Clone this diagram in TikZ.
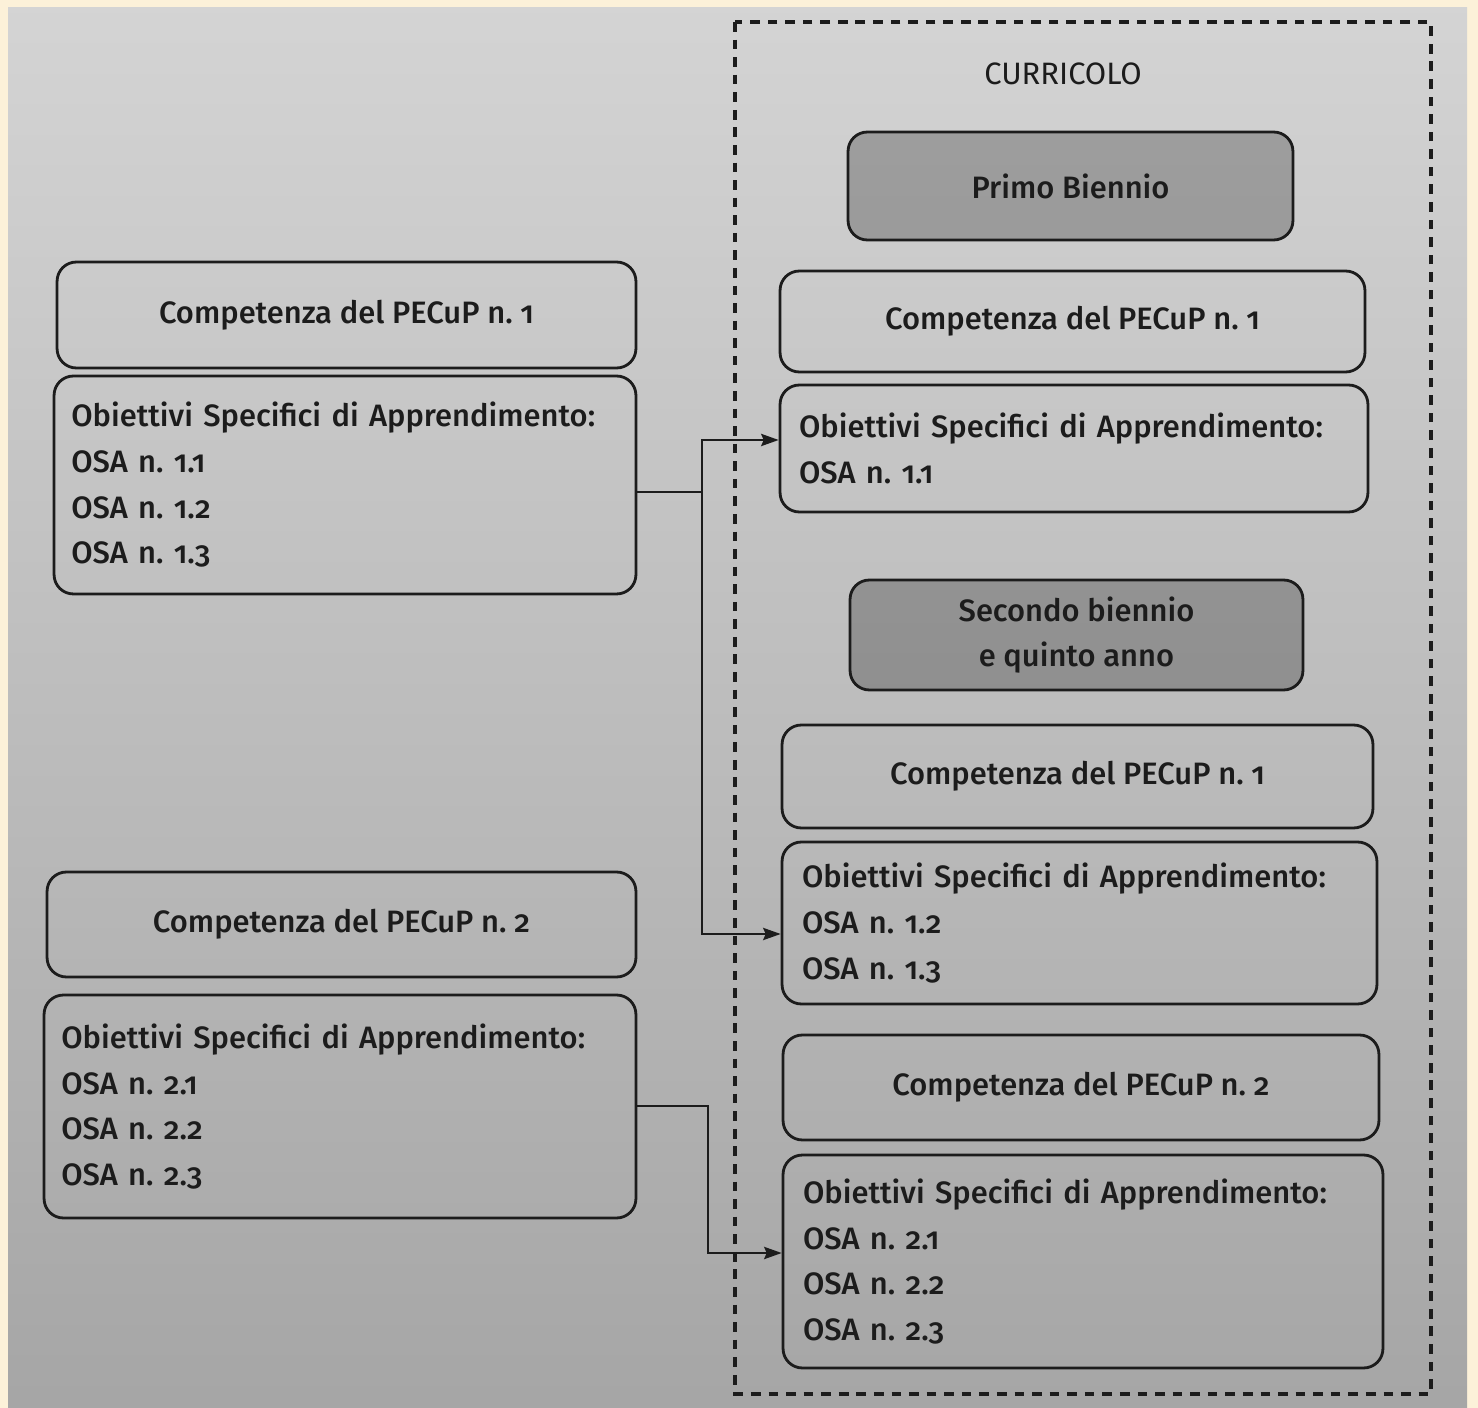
\documentclass[tikz,border=0pt]{standalone}
\usepackage{fontspec}
\setmainfont[Numbers=OldStyle, UprightFont={* Medium}]{Fira Sans}
\newfontfamily\headfont[Numbers=OldStyle]{Fira Sans}
\usetikzlibrary{arrows.meta}
\frenchspacing
\definecolor{cream}{HTML}{FCF1D9}
\definecolor{ink}{HTML}{1C1C1C}
\tikzset{
  x=0.02cm, y=-0.02cm,
  box/.style={draw=ink, line width=1.6pt, rounded corners=11pt, inner sep=0pt,
    font=\fontsize{17.6}{26}\selectfont, text=ink},
  stage/.style={box, fill=black, fill opacity=0.24, text opacity=1},
  list/.style={box, align=left},
  conn/.style={draw=ink, line width=1.1pt,
    >={Stealth[length=10pt,width=7pt,inset=1.5pt]}},
  frame/.style={draw=ink, line width=2pt, dash pattern=on 5.5pt off 4.5pt}
}
\begin{document}
\begin{tikzpicture}
  % page and paper
  \fill[cream] (0,0) rectangle (1478,1408);
  \shade[top color=black!17, bottom color=black!35] (8,8) rectangle (1467,1408);
  \useasboundingbox (0,0) rectangle (1478,1408);

  % curriculum frame
  \draw[frame] (735,22) rectangle (1431,1394);
  \node[font=\headfont\fontsize{17.6}{20}\selectfont, text=ink] (title) at (1063,74) {CURRICOLO};

  % left column
  \node[box, minimum width=11.58cm, minimum height=2.12cm] (lc1) at (346.5,315)
    {Competenza del PECuP n. 1};
  \node[list, minimum width=11.64cm, minimum height=4.36cm, text width=10.95cm] (lo1) at (345,485)
    {Obiettivi Specifici di Apprendimento:\\OSA n. 1.1\\OSA n. 1.2\\OSA n. 1.3};
  \node[box, minimum width=11.78cm, minimum height=2.1cm] (lc2) at (341.5,924.5)
    {Competenza del PECuP n. 2};
  \node[list, minimum width=11.84cm, minimum height=4.46cm, text width=11.15cm] (lo2) at (340,1106.5)
    {Obiettivi Specifici di Apprendimento:\\OSA n. 2.1\\OSA n. 2.2\\OSA n. 2.3};

  % right column
  \node[stage, minimum width=8.9cm, minimum height=2.16cm] (pb) at (1070.5,186)
    {Primo Biennio};
  \node[box, minimum width=11.7cm, minimum height=2.02cm] (rc1) at (1072.5,321.5)
    {Competenza del PECuP n. 1};
  \node[list, minimum width=11.76cm, minimum height=2.54cm, text width=11.0cm] (ro1) at (1074,448.5)
    {Obiettivi Specifici di Apprendimento:\\OSA n. 1.1};
  \node[stage, align=center, minimum width=9.06cm, minimum height=2.2cm] (sb) at (1076.5,635)
    {Secondo biennio\\e quinto anno};
  \node[box, minimum width=11.82cm, minimum height=2.06cm] (rc2) at (1077.5,776.5)
    {Competenza del PECuP n. 1};
  \node[list, minimum width=11.9cm, minimum height=3.24cm, text width=11.1cm] (ro2) at (1079.5,923)
    {Obiettivi Specifici di Apprendimento:\\OSA n. 1.2\\OSA n. 1.3};
  \node[box, minimum width=11.92cm, minimum height=2.1cm] (rc3) at (1081,1087.5)
    {Competenza del PECuP n. 2};
  \node[list, minimum width=12.0cm, minimum height=4.26cm, text width=11.2cm] (ro3) at (1083,1261.5)
    {Obiettivi Specifici di Apprendimento:\\OSA n. 2.1\\OSA n. 2.2\\OSA n. 2.3};

  % connectors
  \coordinate (s1) at (0,492);
  \coordinate (t1) at (702,440);
  \coordinate (t2) at (702,934);
  \draw[conn] (lo1.east |- s1) -- (t1 |- s1);
  \draw[conn,<->] (ro1.west |- t1) -- (t1) -- (t2) -- (ro2.west |- t2);
  \coordinate (s2) at (0,1106);
  \coordinate (t3) at (708,1253);
  \draw[conn,->] (lo2.east |- s2) -| (t3) -- (ro3.west |- t3);
\end{tikzpicture}
\end{document}
